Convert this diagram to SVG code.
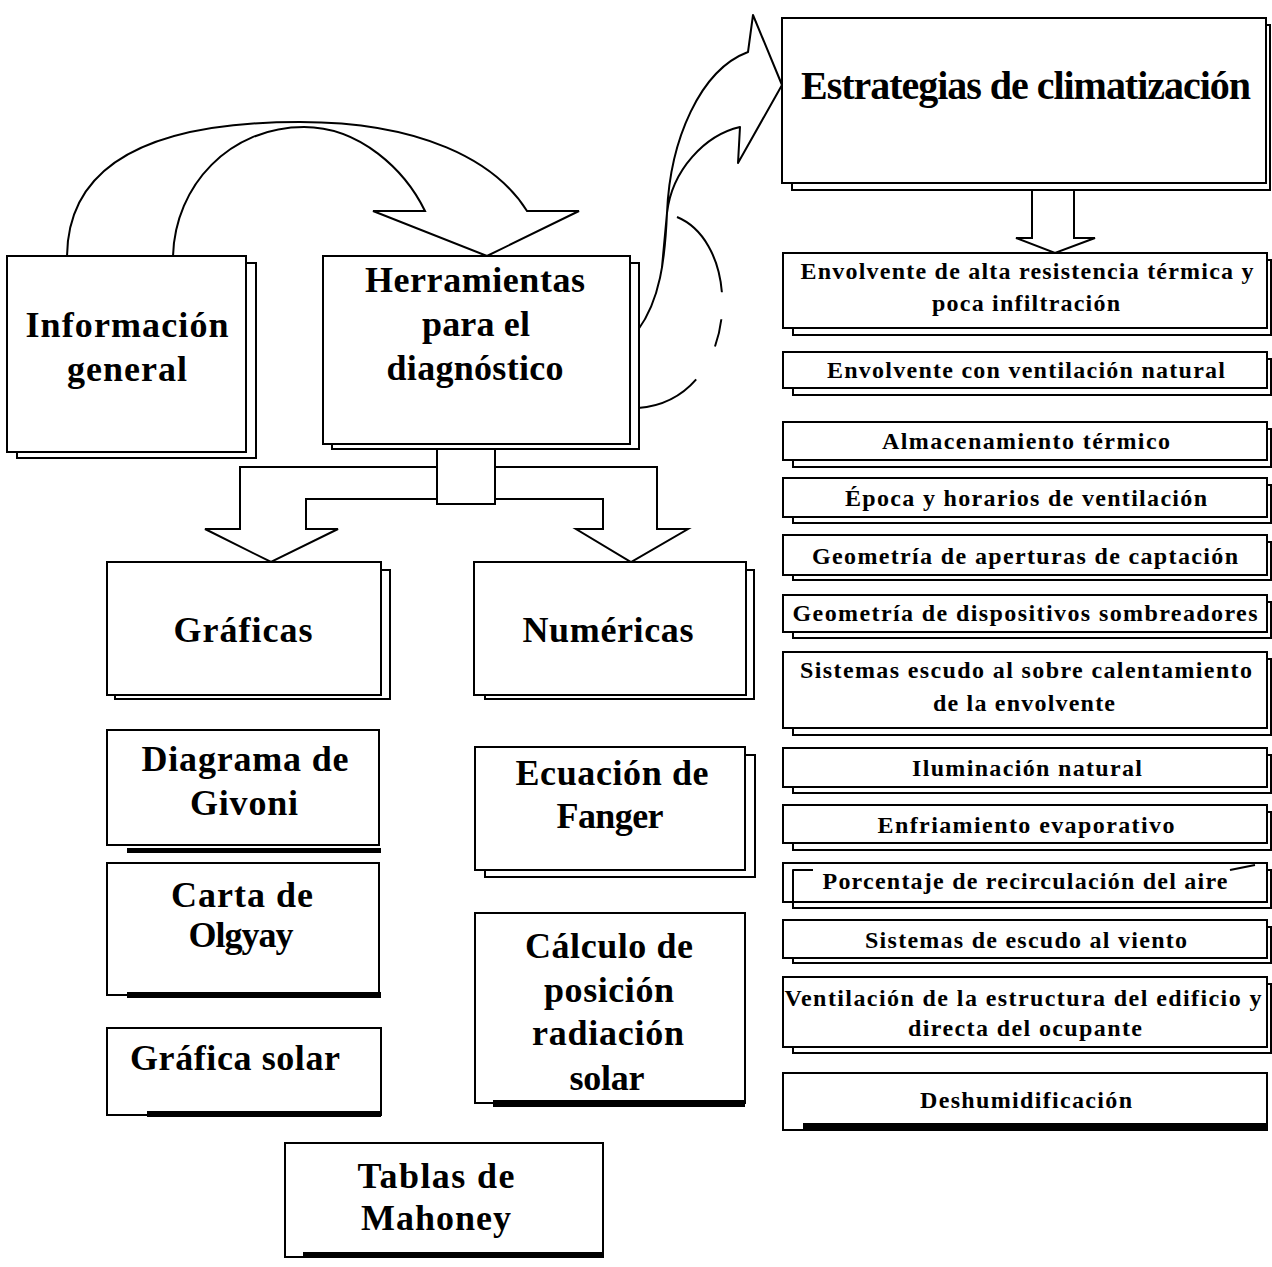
<svg xmlns="http://www.w3.org/2000/svg" width="1272" height="1267" viewBox="0 0 1272 1267">
  <style>
    .box { fill: #fff; stroke: #000; stroke-width: 2; }
    .line { fill: none; stroke: #000; stroke-width: 2; stroke-linejoin: round; }
    .hollow { fill: #fff; stroke: #000; stroke-width: 2; stroke-linejoin: miter; }
    .bar { fill: #000; }
    .t { font-family: "Liberation Serif", "Times New Roman", serif; font-weight: bold; text-anchor: middle; fill: #000; }
    .big { font-size: 36px; }
    .title { font-size: 40px; }
    .small { font-size: 24px; }
  </style>

  <rect x="0" y="0" width="1272" height="1267" fill="#fff"/>

  <!-- connectors -->
  <g id="connectors">
    <!-- curved arrow: Información general -> Herramientas -->
    <path class="hollow" d="M67,256 C68,170 140,122 300,122 C420,122 495,160 527,211 L579,211 L487,256 L373,211 L425,211 C405,170 360,127 304,127 C230,127 175,185 173,256"/>
    <!-- twisted curved arrow: Herramientas -> Estrategias -->
    <path class="line" d="M638,330 C660,300 665,260 667,213 C670,140 700,70 748,52 L753,15 L782,85 L738,163 L740,127 C705,135 672,170 667,213 L662,267"/>
    <path class="line" stroke-dasharray="92 27 28 38 90" d="M677,217 C745,245 740,400 638,408"/>
    <!-- split arrow: Herramientas -> Gráficas / Numéricas -->
    <path class="hollow" d="M437,467 H240 V529 H205 L271,562 L338,529 H306 V499 H437 Z"/>
    <path class="hollow" d="M495,467 H657 V529 H688 L631,562 L576,529 H603 V499 H495 Z"/>
    <rect class="box" x="437" y="448" width="58" height="56"/>
    <!-- block arrow: Estrategias -> list -->
    <path class="hollow" d="M1032,190 V238 H1016 L1055,253 L1095,238 H1074 V190"/>
  </g>

  <!-- main nodes -->
  <g id="informacion">
    <rect class="box" x="17" y="263" width="239" height="195"/>
    <rect class="box" x="7" y="256" width="239" height="196"/>
    <text class="t big" x="127" y="337" textLength="203" lengthAdjust="spacing">Información</text>
    <text class="t big" x="127" y="381" textLength="120" lengthAdjust="spacing">general</text>
  </g>

  <g id="herramientas">
    <rect class="box" x="332" y="263" width="307" height="186"/>
    <rect class="box" x="323" y="256" width="307" height="188"/>
    <text class="t big" x="475" y="292" textLength="220" lengthAdjust="spacing">Herramientas</text>
    <text class="t big" x="476" y="336" textLength="108" lengthAdjust="spacing">para el</text>
    <text class="t big" x="475" y="380" textLength="177" lengthAdjust="spacing">diagnóstico</text>
  </g>

  <g id="estrategias">
    <rect class="box" x="792" y="25" width="478" height="165"/>
    <rect class="box" x="782" y="18" width="484" height="165"/>
    <text class="t title" x="1026" y="99" textLength="450" lengthAdjust="spacing">Estrategias de climatización</text>
  </g>

  <g id="graficas">
    <rect class="box" x="115" y="570" width="275" height="129"/>
    <rect class="box" x="107" y="562" width="274" height="133"/>
    <text class="t big" x="243" y="642" textLength="139" lengthAdjust="spacing">Gráficas</text>
  </g>

  <g id="numericas">
    <rect class="box" x="485" y="570" width="269" height="129"/>
    <rect class="box" x="474" y="562" width="272" height="133"/>
    <text class="t big" x="608" y="642" textLength="171" lengthAdjust="spacing">Numéricas</text>
  </g>

  <!-- graphic tools -->
  <g id="givoni">
    <rect class="bar" x="127" y="848" width="254" height="5"/>
    <rect class="box" x="107" y="730" width="272" height="115"/>
    <text class="t big" x="245" y="771" textLength="207" lengthAdjust="spacing">Diagrama de</text>
    <text class="t big" x="244" y="815" textLength="108" lengthAdjust="spacing">Givoni</text>
  </g>

  <g id="olgyay">
    <rect class="box" x="107" y="863" width="272" height="132"/>
    <rect class="bar" x="127" y="992" width="254" height="6"/>
    <text class="t big" x="242" y="907" textLength="142" lengthAdjust="spacing">Carta de</text>
    <text class="t big" x="241" y="947" textLength="105" lengthAdjust="spacing">Olgyay</text>
  </g>

  <g id="grafica-solar">
    <rect class="box" x="107" y="1028" width="274" height="87"/>
    <rect class="bar" x="147" y="1111" width="234" height="6"/>
    <text class="t big" x="235" y="1070" textLength="210" lengthAdjust="spacing">Gráfica solar</text>
  </g>

  <g id="mahoney">
    <rect class="box" x="285" y="1143" width="318" height="114"/>
    <rect class="bar" x="303" y="1252" width="300" height="6"/>
    <text class="t big" x="436" y="1188" textLength="157" lengthAdjust="spacing">Tablas de</text>
    <text class="t big" x="436" y="1230" textLength="150" lengthAdjust="spacing">Mahoney</text>
  </g>

  <!-- numeric tools -->
  <g id="fanger">
    <rect class="box" x="485" y="755" width="270" height="122"/>
    <rect class="box" x="475" y="747" width="270" height="123"/>
    <text class="t big" x="612" y="785" textLength="193" lengthAdjust="spacing">Ecuación de</text>
    <text class="t big" x="610" y="828" textLength="107" lengthAdjust="spacing">Fanger</text>
  </g>

  <g id="calculo">
    <rect class="box" x="475" y="913" width="270" height="190"/>
    <rect class="bar" x="493" y="1100" width="252" height="7"/>
    <text class="t big" x="609" y="958" textLength="168" lengthAdjust="spacing">Cálculo de</text>
    <text class="t big" x="609" y="1002" textLength="130" lengthAdjust="spacing">posición</text>
    <text class="t big" x="608" y="1045" textLength="152" lengthAdjust="spacing">radiación</text>
    <text class="t big" x="607" y="1090" textLength="75" lengthAdjust="spacing">solar</text>
  </g>

  <!-- strategy list -->
  <g id="s1">
    <rect class="box" x="793" y="260" width="478" height="75"/>
    <rect class="box" x="783" y="253" width="484" height="75"/>
    <text class="t small" x="1027" y="279" textLength="453" lengthAdjust="spacing">Envolvente de alta resistencia térmica y</text>
    <text class="t small" x="1026" y="311" textLength="188" lengthAdjust="spacing">poca infiltración</text>
  </g>
  <g id="s2">
    <rect class="box" x="793" y="359" width="478" height="36"/>
    <rect class="box" x="783" y="352" width="484" height="36"/>
    <text class="t small" x="1026" y="378" textLength="398" lengthAdjust="spacing">Envolvente con ventilación natural</text>
  </g>
  <g id="s3">
    <rect class="box" x="793" y="429" width="478" height="38"/>
    <rect class="box" x="783" y="422" width="484" height="38"/>
    <text class="t small" x="1026" y="449" textLength="288" lengthAdjust="spacing">Almacenamiento térmico</text>
  </g>
  <g id="s4">
    <rect class="box" x="793" y="485" width="478" height="38"/>
    <rect class="box" x="783" y="478" width="484" height="39"/>
    <text class="t small" x="1026" y="506" textLength="362" lengthAdjust="spacing">Época y horarios de ventilación</text>
  </g>
  <g id="s5">
    <rect class="box" x="793" y="542" width="478" height="38"/>
    <rect class="box" x="783" y="535" width="484" height="40"/>
    <text class="t small" x="1025" y="564" textLength="426" lengthAdjust="spacing">Geometría de aperturas de captación</text>
  </g>
  <g id="s6">
    <rect class="box" x="793" y="602" width="478" height="36"/>
    <rect class="box" x="783" y="595" width="484" height="37"/>
    <text class="t small" x="1025" y="621" textLength="465" lengthAdjust="spacing">Geometría de dispositivos sombreadores</text>
  </g>
  <g id="s7">
    <rect class="box" x="793" y="659" width="478" height="76"/>
    <rect class="box" x="783" y="652" width="484" height="76"/>
    <text class="t small" x="1026" y="678" textLength="452" lengthAdjust="spacing">Sistemas escudo al sobre calentamiento</text>
    <text class="t small" x="1024" y="711" textLength="182" lengthAdjust="spacing">de la envolvente</text>
  </g>
  <g id="s8">
    <rect class="box" x="793" y="755" width="478" height="38"/>
    <rect class="box" x="783" y="748" width="484" height="39"/>
    <text class="t small" x="1027" y="776" textLength="230" lengthAdjust="spacing">Iluminación natural</text>
  </g>
  <g id="s9">
    <rect class="box" x="793" y="812" width="478" height="38"/>
    <rect class="box" x="783" y="805" width="484" height="38"/>
    <text class="t small" x="1026" y="833" textLength="297" lengthAdjust="spacing">Enfriamiento evaporativo</text>
  </g>
  <g id="s10">
    <rect class="box" x="793" y="870" width="478" height="38"/>
    <rect class="box" x="783" y="863" width="484" height="39"/>
    <path class="line" d="M813,870 H793 V908 M1230,870 L1255,865"/>
    <text class="t small" x="1025" y="889" textLength="405" lengthAdjust="spacing">Porcentaje de recirculación del aire</text>
  </g>
  <g id="s11">
    <rect class="box" x="793" y="927" width="478" height="36"/>
    <rect class="box" x="783" y="920" width="484" height="38"/>
    <text class="t small" x="1026" y="948" textLength="322" lengthAdjust="spacing">Sistemas de escudo al viento</text>
  </g>
  <g id="s12">
    <rect class="box" x="793" y="984" width="478" height="69"/>
    <rect class="box" x="783" y="977" width="484" height="70"/>
    <text class="t small" x="1023" y="1006" textLength="477" lengthAdjust="spacing">Ventilación de la estructura del edificio y</text>
    <text class="t small" x="1025" y="1036" textLength="234" lengthAdjust="spacing">directa del ocupante</text>
  </g>
  <g id="s13">
    <rect class="box" x="783" y="1073" width="484" height="57"/>
    <rect class="bar" x="803" y="1123" width="464" height="7"/>
    <text class="t small" x="1026" y="1108" textLength="212" lengthAdjust="spacing">Deshumidificación</text>
  </g>
</svg>
